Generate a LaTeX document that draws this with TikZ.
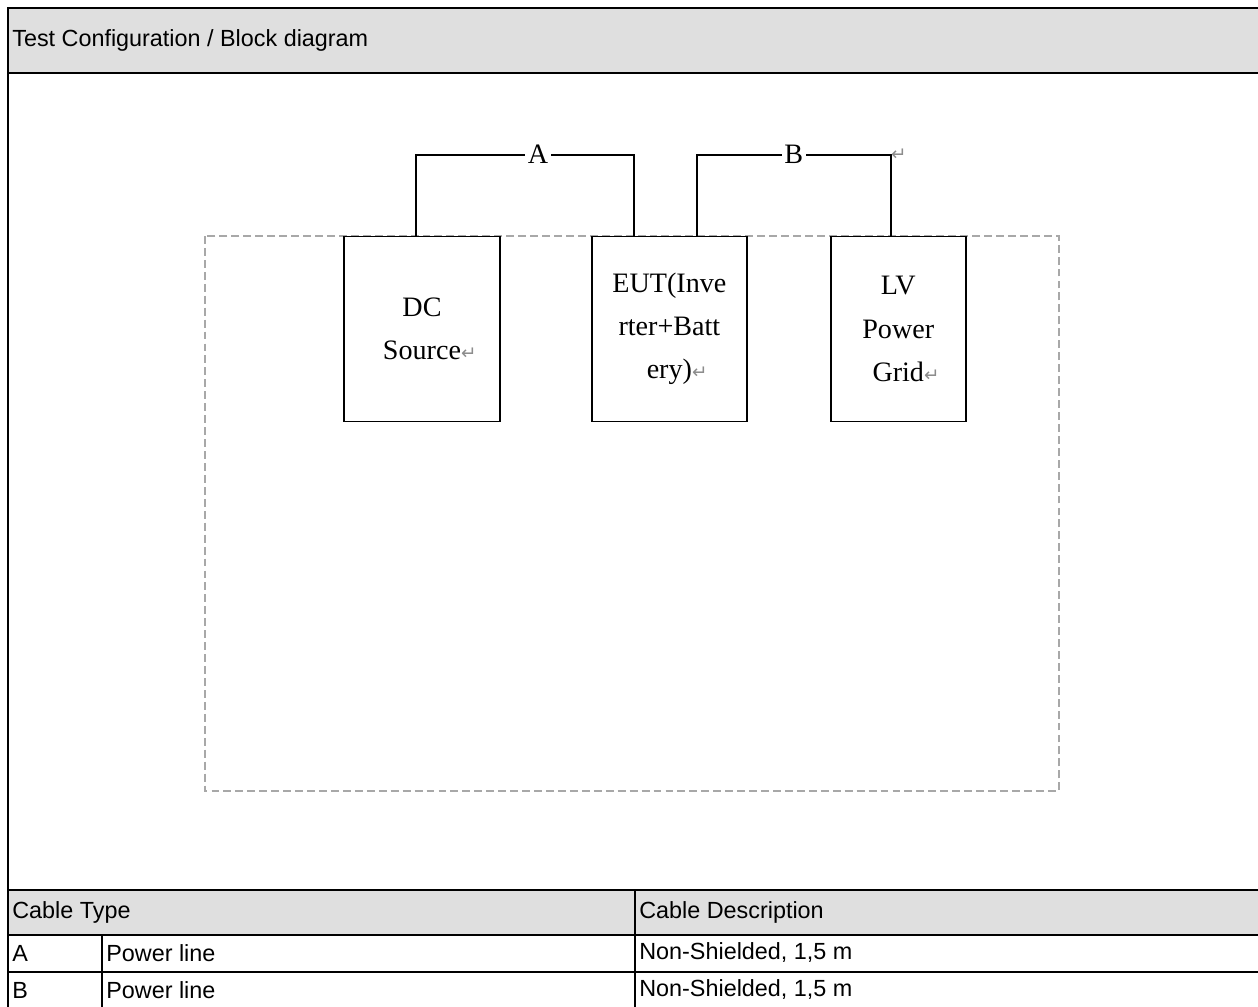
\documentclass[tikz,border=0pt]{standalone}
\usepackage{fontspec}
\setmainfont{Liberation Sans}
\newfontfamily\boxfont{Liberation Serif}
\newfontfamily\markfont{DejaVu Sans}
\usetikzlibrary{positioning,calc}
\definecolor{Band}{HTML}{DFDFDF}
\definecolor{Dash}{HTML}{A8A8A8}
\definecolor{Mark}{HTML}{8C8C8C}
\newcommand{\retmark}{\rlap{\markfont\color{Mark}\fontsize{10.5}{10.5}\selectfont ↵}}
\tikzset{
 frameline/.style={draw=black, line width=1.4pt, line cap=rect},
 unit/.style={draw=black, line width=1.1pt, fill=white, minimum height=3.7cm, align=center, inner sep=2pt, font=\boxfont\fontsize{16}{24.6}\selectfont},
 wire/.style={draw=black, line width=1.1pt},
 cablelabel/.style={fill=white, inner sep=1.5pt, font=\boxfont\fontsize{16}{17}\selectfont},
 cell/.style={anchor=west, inner sep=0pt, font=\fontsize{13.3}{15}\selectfont},
 boundary/.style={draw=Dash, line width=1.1pt, dash pattern=on 4.5pt off 2.3pt}
}

\begin{document}
\begin{tikzpicture}[x=0.02cm, y=-0.02cm]
\useasboundingbox (0,0) rectangle (1258,1007);
% title band and table head
\fill[Band] (8,8) rectangle (1258,73);
\fill[Band] (8,890) rectangle (1258,935);
\node[cell] (title) at (12,40.5) {Test Configuration / Block diagram};

% test set-up
\draw[boundary] (205,236) rectangle (1059,791);
\node[unit, minimum width=3.12cm] (dc) at (422,329) {DC\\Source\retmark};
\node[unit, minimum width=3.1cm, right=1.80cm of dc] (eut) {EUT(Inve\\rter+Batt\\ery)\retmark};
\node[unit, minimum width=2.7cm, right=1.64cm of eut] (lv) {LV\\Power\\Grid\retmark};

\draw[wire] ($(dc.north)+(-6,0)$) -- ++(0,-81) -| node[cablelabel, pos=0.28] (lblA) {A} ($(eut.north)+(-35.5,0)$);
\coordinate (bcorner) at ($(lv.north)+(-7.5,-81)$);
\draw[wire] ($(eut.north)+(27.5,0)$) -- ++(0,-81) -- node[cablelabel] (lblB) {B} (bcorner) -- ($(lv.north)+(-7.5,0)$);
\node[anchor=south west, inner sep=0pt] (bmark) at ($(bcorner)+(-1,6)$) {\retmark};

% cable table
\node[cell] (typehead) at (12,912.5) {Cable Type};
\node[cell] (deschead) at (639,912.5) {Cable Description};
\foreach \k/\y in {A/953,B/990} {
  \node[cell] (type\k) at (12,\y) {\k};
  \node[cell] (kind\k) at (106,\y) {Power line};
  \node[cell] (desc\k) at (639,\y) {Non-Shielded, 1,5 m};
}

% frame and grid
\draw[frameline] (1258,8) -- (8,8) -- (8,1007);
\foreach \y in {73,890,935,972}
  \draw[frameline] (8,\y) -- (1258,\y);
\draw[frameline] (635,890) -- (635,1007);
\draw[frameline] (102,935) -- (102,1007);
\end{tikzpicture}
\end{document}
